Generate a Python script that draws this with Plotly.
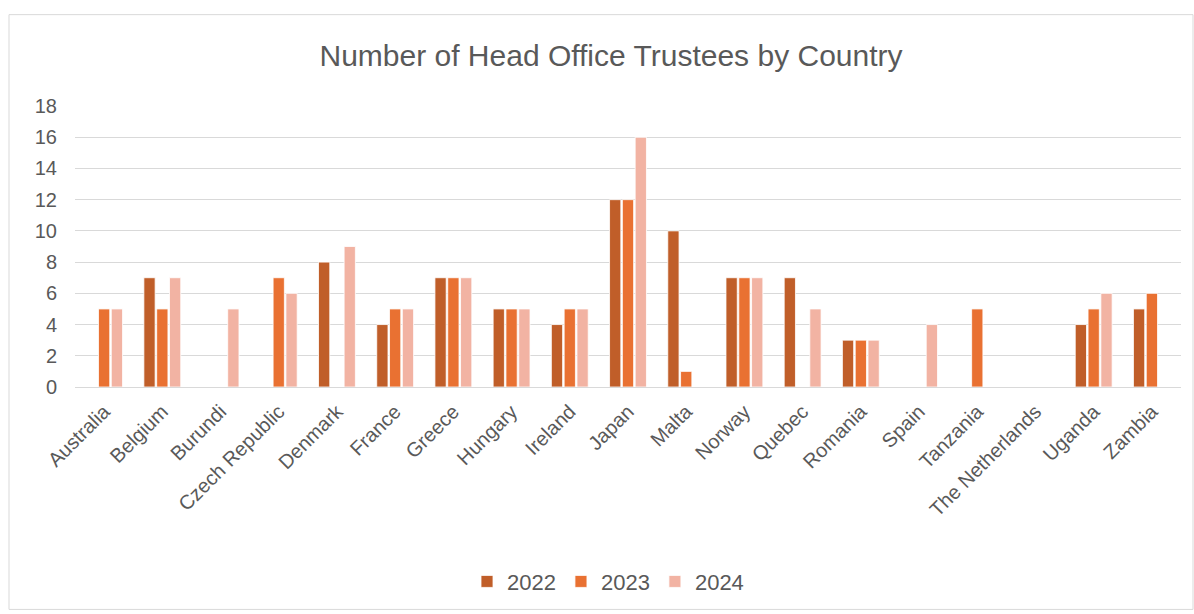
import plotly.graph_objects as go

countries = ["Australia", "Belgium", "Burundi", "Czech Republic", "Denmark", "France",
             "Greece", "Hungary", "Ireland", "Japan", "Malta", "Norway", "Quebec",
             "Romania", "Spain", "Tanzania", "The Netherlands", "Uganda", "Zambia"]

trustees_2022 = [None, 7, None, None, 8, 4, 7, 5, 4, 12, 10, 7, 7, 3, None, None, None, 4, 5]
trustees_2023 = [5, 5, None, 7, None, 5, 7, 5, 5, 12, 1, 7, None, 3, None, 5, None, 5, 6]
trustees_2024 = [5, 7, 5, 6, 9, 5, 7, 5, 5, 16, None, 7, 5, 3, 4, None, None, 6, None]

y_ticks = [0, 2, 4, 6, 8, 10, 12, 14, 16, 18]

series = [
    ("2022", trustees_2022, "#C05E29"),
    ("2023", trustees_2023, "#E97132"),
    ("2024", trustees_2024, "#F2B3A3"),
]

W, H = 1194, 614
L, R, T, B = 75, 13, 106, 225
PW = W - L - R

fig = go.Figure()
for name, vals, color in series:
    fig.add_trace(go.Bar(
        x=countries, y=vals, name=name,
        marker=dict(color=color, line=dict(color="white", width=0.8)),
    ))

font_family = "Liberation Sans, Arial, sans-serif"
grey = "#595959"

fig.update_layout(
    width=W, height=H,
    margin=dict(l=L, r=R, t=T, b=B),
    paper_bgcolor="white", plot_bgcolor="white",
    barmode="group", bargap=0.34, bargroupgap=0.12,
    title=dict(text="Number of Head Office Trustees by Country",
               x=611 / W, xanchor="center", y=1 - 55 / H, yanchor="middle",
               xref="container", yref="container",
               font=dict(family=font_family, size=30, color=grey)),
    font=dict(family=font_family, color=grey, size=20),
    legend=dict(orientation="h", x=0.5 - 20 / PW, xanchor="center",
                y=-(585 - 389) / (389 - 106),
                yanchor="middle", font=dict(size=22, color=grey),
                itemwidth=30, traceorder="normal"),
    xaxis=dict(tickangle=-45, tickfont=dict(size=20, color=grey), showgrid=False,
               showline=True, linecolor="#D9D9D9", linewidth=1, ticks="",
               ticklabelstandoff=4),
    yaxis=dict(range=[0, 18], tickvals=y_ticks, tickfont=dict(size=20, color=grey),
               showgrid=True, gridcolor="#D9D9D9", gridwidth=1.2,
               zeroline=True, zerolinecolor="#D9D9D9", zerolinewidth=1.2,
               ticks="", ticklabelstandoff=17),
    shapes=[dict(type="rect", xref="paper", yref="paper",
                 x0=(9 - L) / PW, x1=(1193 - L) / PW,
                 y0=-(613 - (H - B)) / (H - T - B), y1=1 + (T - 14) / (H - T - B),
                 line=dict(color="#D9D9D9", width=1), layer="below")],
)

fig.write_html("out.html")
